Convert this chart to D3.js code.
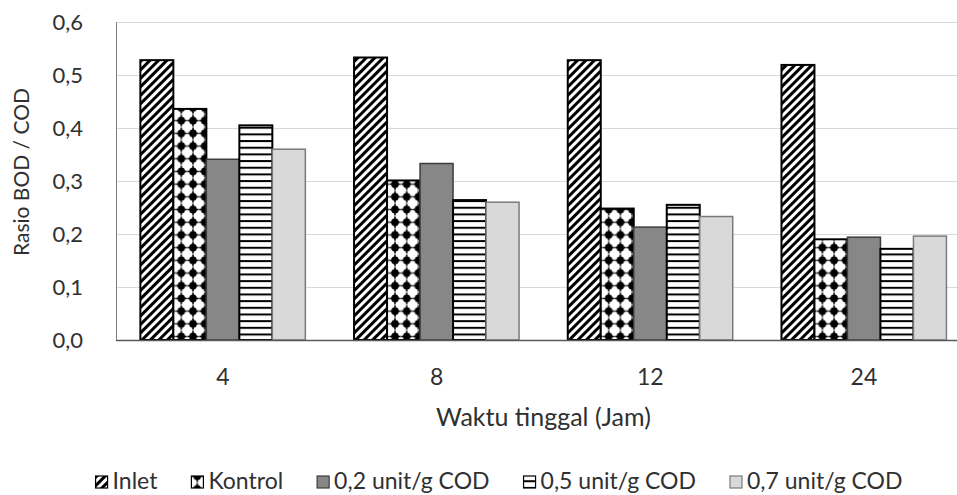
<!DOCTYPE html>
<html>
<head>
<meta charset="utf-8">
<script src="https://cdn.jsdelivr.net/npm/d3@7"></script>
<style>
	body { margin: 0; background: #fff; }
	svg text { font-family: Lato, "Open Sans", sans-serif; fill: #303030; }
</style>
</head>
<body>
<svg id="chart" width="957" height="495"></svg>
<script>
const WIDTH = 957,
	  HEIGHT = 495;

// data
const categories = ["4", "8", "12", "24"];
const series = ["Inlet", "Kontrol", "0,2 unit/g COD", "0,5 unit/g COD", "0,7 unit/g COD"];
const inlet = [0.528, 0.533, 0.528, 0.519];
const kontrol = [0.436, 0.301, 0.248, 0.190];
const enzim02 = [0.341, 0.333, 0.213, 0.194];
const enzim05 = [0.405, 0.264, 0.255, 0.172];
const enzim07 = [0.360, 0.260, 0.233, 0.196];
const yTicks = [0, 0.1, 0.2, 0.3, 0.4, 0.5, 0.6];

const values = [inlet, kontrol, enzim02, enzim05, enzim07];

let svg = d3.select("#chart");

// plot area (right side runs past the picture edge, as in the original)
let plotLeft = 116,
	plotTop = 22,
	plotBottom = 340,
	step = 213.7;

let x0 = d3.scaleBand()
	.domain(categories)
	.range([plotLeft, plotLeft + step * categories.length])
	.paddingInner(0.228)
	.paddingOuter(0.114);

let x1 = d3.scaleBand()
	.domain(series)
	.range([0, x0.bandwidth()]);

let y = d3.scaleLinear()
	.domain([0, 0.6])
	.range([plotBottom, plotTop]);

// patterns
let defs = svg.append("defs");

let diag = defs.append("pattern")
	.attr("id", "p-diag")
	.attr("patternUnits", "userSpaceOnUse")
	.attr("width", 6)
	.attr("height", 6)
	.attr("patternTransform", "rotate(45)");
diag.append("rect").attr("width", 6).attr("height", 6).attr("fill", "#fff");
diag.append("rect").attr("width", 3).attr("height", 6).attr("fill", "#000");

let dots = defs.append("pattern")
	.attr("id", "p-dots")
	.attr("patternUnits", "userSpaceOnUse")
	.attr("width", 11.7)
	.attr("height", 12.7);
dots.append("rect").attr("width", 11.7).attr("height", 12.7).attr("fill", "#fff");
dots.append("circle").attr("cx", 5.85).attr("cy", 6.35).attr("r", 3.8).attr("fill", "#000");
dots.append("rect").attr("x", 5.1).attr("y", 0.5).attr("width", 1.5).attr("height", 11.7).attr("fill", "#000");
dots.append("rect").attr("x", 0.3).attr("y", 5.6).attr("width", 11.1).attr("height", 1.5).attr("fill", "#000");

let hstripe = defs.append("pattern")
	.attr("id", "p-hstripe")
	.attr("patternUnits", "userSpaceOnUse")
	.attr("width", 8)
	.attr("height", 6.67);
hstripe.append("rect").attr("width", 8).attr("height", 6.67).attr("fill", "#fff");
hstripe.append("rect").attr("y", 0).attr("width", 8).attr("height", 2).attr("fill", "#000");

let fills = ["url(#p-diag)", "url(#p-dots)", "#878787", "url(#p-hstripe)", "#d9d9d9"],
	strokes = ["#000", "#000", "#3c3c3c", "#000", "#7a7a7a"],
	strokeWidths = [2, 2, 1.5, 2, 1.5];

// gridlines
svg.append("g")
	.selectAll("line")
	.data(yTicks.slice(1))
	.join("line")
		.attr("x1", plotLeft)
		.attr("x2", WIDTH)
		.attr("y1", d => Math.round(y(d)) + 0.5)
		.attr("y2", d => Math.round(y(d)) + 0.5)
		.attr("stroke", "#d9d9d9")
		.attr("stroke-width", 1.2);

// y axis line
svg.append("line")
	.attr("x1", plotLeft + 0.5).attr("x2", plotLeft + 0.5)
	.attr("y1", plotTop).attr("y2", plotBottom)
	.attr("stroke", "#7f7f7f");

// bars
let groups = svg.append("g")
	.selectAll("g")
	.data(categories)
	.join("g")
		.attr("transform", d => "translate(" + x0(d) + ",0)");

groups.selectAll("rect")
	.data((d, i) => series.map((s, j) => ({s: s, j: j, v: values[j][i]})))
	.join("rect")
		.attr("x", d => x1(d.s))
		.attr("y", d => y(d.v))
		.attr("width", x1.bandwidth())
		.attr("height", d => y(0) - y(d.v))
		.attr("fill", d => fills[d.j])
		.attr("stroke", d => strokes[d.j])
		.attr("stroke-width", d => strokeWidths[d.j]);

// x axis line
svg.append("line")
	.attr("x1", plotLeft).attr("x2", WIDTH)
	.attr("y1", plotBottom + 0.5).attr("y2", plotBottom + 0.5)
	.attr("stroke", "#595959")
	.attr("stroke-width", 1.3);

// y tick labels
svg.append("g")
	.selectAll("text")
	.data(yTicks)
	.join("text")
		.attr("x", 83)
		.attr("y", d => y(d))
		.attr("dy", "0.36em")
		.attr("text-anchor", "end")
		.style("font-size", "22px")
		.text(d => d3.format(".1f")(d).replace(".", ","));

// x tick labels
svg.append("g")
	.selectAll("text")
	.data(categories)
	.join("text")
		.attr("x", d => x0(d) + x0.bandwidth() / 2)
		.attr("y", 385)
		.attr("text-anchor", "middle")
		.style("font-size", "23px")
		.text(d => d);

// axis titles
svg.append("text")
	.attr("x", (plotLeft + plotLeft + step * categories.length) / 2)
	.attr("y", 426)
	.attr("text-anchor", "middle")
	.style("font-size", "25px")
	.text("Waktu tinggal (Jam)");

svg.append("text")
	.attr("transform", "translate(29,172) rotate(-90)")
	.attr("text-anchor", "middle")
	.style("font-size", "21px")
	.text("Rasio BOD / COD");

// legend, centred under the chart
let legend = svg.append("g");
let items = legend.selectAll("g")
	.data(series)
	.join("g");

items.append("rect")
	.attr("y", 476)
	.attr("width", 12)
	.attr("height", 12)
	.attr("fill", (d, i) => fills[i])
	.attr("stroke", (d, i) => strokes[i])
	.attr("stroke-width", 1.2);

items.append("text")
	.attr("x", 17)
	.attr("y", 489)
	.style("font-size", "23px")
	.text(d => d);

let widths = [];
items.selectAll("text").each(function () {
	widths.push(17 + this.getComputedTextLength());
});

let gap = 34,
	total = d3.sum(widths) + gap * (widths.length - 1),
	pos = 499 - total / 2;

items.each(function (d, i) {
	d3.select(this).attr("transform", "translate(" + pos + ",0)");
	pos += widths[i] + gap;
});
</script>
</body>
</html>
